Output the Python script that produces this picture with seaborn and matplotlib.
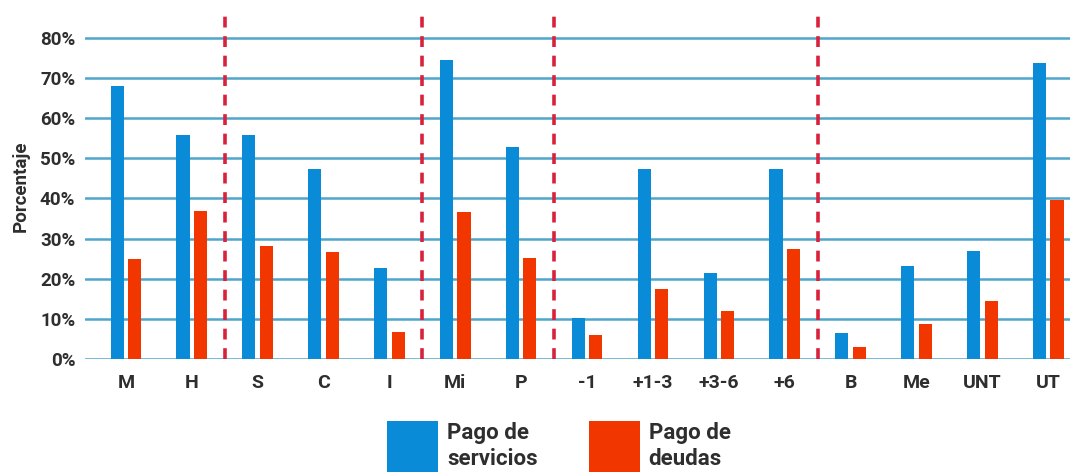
import numpy as np
import pandas as pd
import matplotlib
matplotlib.use("Agg")
import matplotlib.pyplot as plt
from matplotlib.patches import Patch
import seaborn as sns

# Categorías del eje X y porcentajes de cada serie
categorias = ["M", "H", "S", "C", "I", "Mi", "P", "-1", "+1-3", "+3-6", "+6",
              "B", "Me", "UNT", "UT"]
pago_servicios = [68.0, 55.7, 55.7, 47.2, 22.7, 74.5, 52.7, 10.1, 47.2, 21.5,
                  47.3, 6.5, 23.1, 26.9, 73.8]
pago_deudas = [24.8, 36.9, 28.1, 26.7, 6.7, 36.6, 25.2, 6.1, 17.5, 11.9,
               27.3, 3.1, 8.7, 14.4, 39.6]
# Tamaño de cada grupo de categorías (separados por líneas rojas)
tamanos_grupos = [2, 3, 2, 4, 4]
series = ["Pago de\nservicios", "Pago de\ndeudas"]
ticks_y = [0, 10, 20, 30, 40, 50, 60, 70, 80]

AZUL = "#0a8bd8"
ROJO = "#f23600"
GRID = "#4fa6ca"
SEPARADOR = "#d9213b"
TEXTO = "#2e2e2e"

sns.set_theme(style="white")
plt.rcParams["font.family"] = ["Roboto", "DejaVu Sans"]

df = pd.DataFrame({
    "categoria": categorias * 2,
    "serie": [series[0]] * len(categorias) + [series[1]] * len(categorias),
    "valor": pago_servicios + pago_deudas,
})

fig = plt.figure(figsize=(10.70, 4.72), dpi=100)
ax = fig.add_axes([85 / 1070, 1 - 359 / 472, 1 - 85 / 1070, (359 - 13) / 472])

sns.barplot(data=df, x="categoria", y="valor", hue="serie", order=categorias,
            hue_order=series, palette={series[0]: AZUL, series[1]: ROJO},
            saturation=1, width=0.53, gap=0.25, linewidth=0, errorbar=None,
            legend=False, zorder=3, ax=ax)

# Líneas horizontales de referencia
for v in ticks_y:
    ax.axhline(v, color=GRID, lw=1.8, zorder=1)

# Separadores verticales entre grupos
limites = np.cumsum(tamanos_grupos)[:-1] - 0.5
for b in limites:
    ax.axvline(b, color=SEPARADOR, lw=2.6, ls=(0, (3.0, 2.4)), zorder=2)

ax.set_xlim(-0.62, len(categorias) - 1 + 0.33)
ax.set_ylim(0, 86.15)
ax.set_yticks(ticks_y)
ax.set_yticklabels([f"{v}%" for v in ticks_y])
for s in ax.spines.values():
    s.set_visible(False)
ax.grid(False)
ax.tick_params(axis="y", length=0, pad=7, labelsize=13.5, labelcolor=TEXTO)
ax.tick_params(axis="x", length=0, pad=11, labelsize=14, labelcolor=TEXTO)
for lab in ax.get_xticklabels() + ax.get_yticklabels():
    lab.set_fontweight("bold")
ax.set_xlabel("")
ax.set_ylabel("Porcentaje", fontsize=13.5, color=TEXTO, fontweight="bold",
              labelpad=7)

handles = [Patch(facecolor=AZUL, edgecolor="none"),
           Patch(facecolor=ROJO, edgecolor="none")]
fig.legend(handles, series, loc="upper left",
           bbox_to_anchor=(387 / 1070, 1 - 421 / 472), ncol=2, frameon=False,
           borderpad=0, borderaxespad=0, handlelength=2.3, handleheight=3.4,
           handletextpad=0.4, columnspacing=2.3,
           prop={"family": "Roboto", "size": 16, "weight": "bold"},
           labelcolor=TEXTO)

fig.savefig("out.png", dpi=100)
